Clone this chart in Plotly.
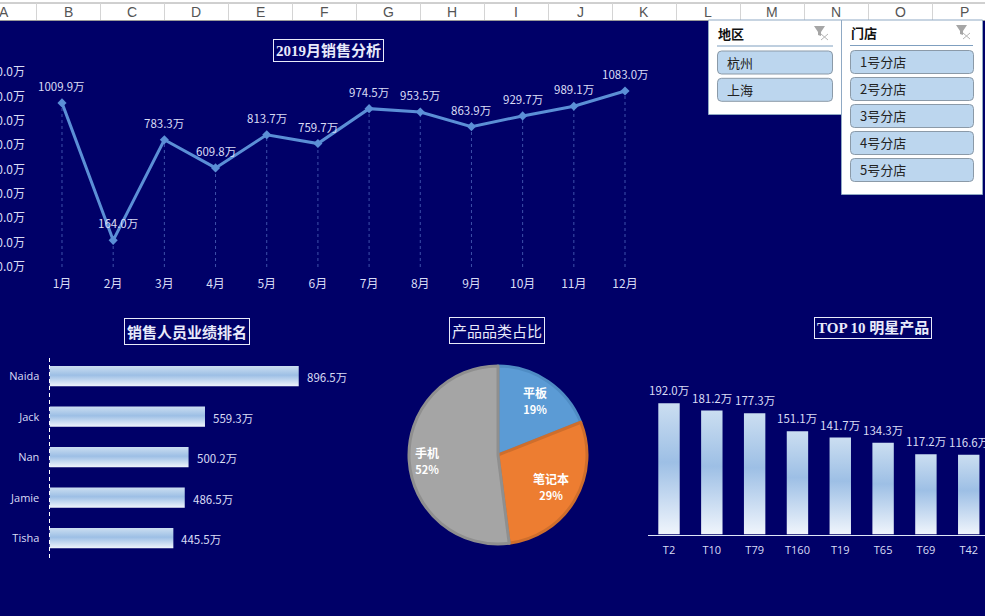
import plotly.graph_objects as go

months = ['1月', '2月', '3月', '4月', '5月', '6月', '7月', '8月', '9月', '10月', '11月', '12月']
month_sales = [1009.9, 164.0, 783.3, 609.8, 813.7, 759.7, 974.5, 953.5, 863.9, 929.7, 989.1, 1083.0]

people = ['Naida', 'Jack', 'Nan', 'Jamie', 'Tisha']
people_sales = [896.5, 559.3, 500.2, 486.5, 445.5]

pie_labels = ['平板', '笔记本', '手机']
pie_values = [19, 29, 52]
pie_colors = ['#5b9bd5', '#ed7d31', '#a5a5a5']
pie_edges = ['#4f8cc4', '#cf6e2c', '#8f8f8f']

products = ['T2', 'T10', 'T79', 'T160', 'T19', 'T65', 'T69', 'T42']
product_sales = [192.0, 181.2, 177.3, 151.1, 141.7, 134.3, 117.2, 116.6]

columns = list('ABCDEFGHIJKLMNOP')
regions = ['杭州', '上海']
stores = ['1号分店', '2号分店', '3号分店', '4号分店', '5号分店']

W, H = 985, 616
NAVY = '#000068'
TEXT = '#d9dcf5'
CJK = 'Noto Sans CJK SC'
VALUE_SIZE = 11.5


# pixel helpers, the picture is laid out in screen pixels
def px(x):
    return x / W


def py(y):
    return 1 - y / H


def wan(v):
    return f'{v:.1f}万'


def rect(x0, y0, x1, y1, fill, line=None, width=1):
    return dict(type='rect', xref='paper', yref='paper', x0=px(x0), x1=px(x1), y0=py(y0), y1=py(y1),
                fillcolor=fill, line=dict(color=line or fill, width=width if line else 0))


def hline(x0, x1, y, color, width=1):
    return dict(type='line', xref='paper', yref='paper', x0=px(x0), x1=px(x1), y0=py(y), y1=py(y),
                line=dict(color=color, width=width))


def vline(x, y0, y1, color, width=1, dash='solid'):
    return dict(type='line', xref='paper', yref='paper', x0=px(x), x1=px(x), y0=py(y0), y1=py(y1),
                line=dict(color=color, width=width, dash=dash))


def button(x0, y0, x1, y1, r=4):
    a, b, c, d = px(x0), py(y0), px(x1), py(y1)
    rx, ry = r / W, r / H
    path = (f'M {a + rx} {b} L {c - rx} {b} Q {c} {b} {c} {b - ry} L {c} {d + ry} Q {c} {d} {c - rx} {d} '
            f'L {a + rx} {d} Q {a} {d} {a} {d + ry} L {a} {b - ry} Q {a} {b} {a + rx} {b} Z')
    return dict(type='path', xref='paper', yref='paper', path=path, fillcolor='#bcd6ee',
                line=dict(color='#8b9aa8', width=1))


def filter_icon(x, y):
    funnel = f'M {px(x)} {py(y)} L {px(x + 11)} {py(y)} L {px(x + 7)} {py(y + 6)} L {px(x + 7)} {py(y + 10)} L {px(x + 4)} {py(y + 9)} L {px(x + 4)} {py(y + 6)} Z'
    cross1 = f'M {px(x + 7)} {py(y + 8)} L {px(x + 14)} {py(y + 14)}'
    cross2 = f'M {px(x + 14)} {py(y + 8)} L {px(x + 7)} {py(y + 14)}'
    return [
        dict(type='path', xref='paper', yref='paper', path=funnel, fillcolor='#a6a6a6', line=dict(width=0)),
        dict(type='path', xref='paper', yref='paper', path=cross1, line=dict(color='#b5b5b5', width=1)),
        dict(type='path', xref='paper', yref='paper', path=cross2, line=dict(color='#b5b5b5', width=1)),
    ]


def label(x, y, text, size=12, color=TEXT, anchor='center', family=CJK, weight=None, **kw):
    return dict(xref='paper', yref='paper', x=px(x), y=py(y), text=text, showarrow=False,
                xanchor=anchor, yanchor='middle',
                font=dict(size=size, color=color, family=family, weight=weight), **kw)


def title_box(x, y, text, weight=700, family=CJK, size=15):
    return label(x, y, text, size=size, color='#e8eafa', weight=weight, family=family,
                 bordercolor='#e8eafa', borderwidth=1, borderpad=2)


drop_x, drop_y = [], []
for m, v in zip(months, month_sales):
    drop_x += [m, m, None]
    drop_y += [0, v, None]

value_font = dict(size=VALUE_SIZE, color=TEXT, family=CJK)

fig = go.Figure()
fig.add_trace(go.Scatter(x=drop_x, y=drop_y, mode='lines', xaxis='x', yaxis='y',
                         line=dict(color='#3d50aa', width=1, dash='3px,3px')))
fig.add_trace(go.Scatter(x=months, y=month_sales, mode='lines+markers', xaxis='x', yaxis='y',
                         line=dict(color='#5b8fd6', width=3),
                         marker=dict(symbol='diamond', size=7, color='#5b8fd6')))
fig.add_trace(go.Bar(x=people_sales, y=people, orientation='h', xaxis='x2', yaxis='y2',
                     marker=dict(color='#9ebfe4', line=dict(width=0))))
fig.add_trace(go.Pie(labels=pie_labels, values=pie_values, sort=False, direction='clockwise', rotation=0,
                     textinfo='none', domain=dict(x=[px(409), px(587)], y=[py(544), py(366)]),
                     marker=dict(colors=pie_colors, line=dict(color=pie_edges, width=3))))
fig.add_trace(go.Bar(x=products, y=product_sales, xaxis='x3', yaxis='y3',
                     marker=dict(color='#9ebfe4', line=dict(width=0))))

# header strip and slicers
shapes = [rect(0, 0, W, 20, '#ffffff'), hline(0, W, 3, '#a0a0a0'), hline(0, W, 20.5, '#9a9a9a')]
annotations = []
for i, c in enumerate(columns):
    shapes.append(vline(36.5 + 64 * i, 3, 20, '#d4d4d4'))
    annotations.append(label(4 + 64 * i, 12, c, size=14, color='#555555', family='Liberation Sans'))

shapes.append(rect(708.5, 20, 841.5, 114.5, '#ffffff', '#8fa9c4'))
shapes.append(hline(717, 833, 46, '#7f9fbf'))
shapes += filter_icon(814, 26)
annotations.append(label(715.5, 33.5, '地区', size=13, color='#111111', anchor='left', weight=700))
for i, r in enumerate(regions):
    top = 51 + 27.3 * i
    shapes.append(button(717.5, top, 832.5, top + 23))
    annotations.append(label(725, top + 11, r, size=13, color='#222222', anchor='left'))

shapes.append(rect(841.5, 20, 982.5, 194.5, '#ffffff', '#8fa9c4'))
shapes.append(hline(850, 973, 45.5, '#7f9fbf'))
shapes += filter_icon(956, 25)
annotations.append(label(848.5, 32.5, '门店', size=13, color='#111111', anchor='left', weight=700))
for i, s in enumerate(stores):
    top = 50.5 + 27 * i
    shapes.append(button(850.5, top, 973.5, top + 23))
    annotations.append(label(858, top + 11, s, size=13, color='#222222', anchor='left'))

# dashed axis of the ranking chart, on top of the bars
shapes.append(vline(49.5, 358, 559, '#ffffff', dash='4px,3px'))

annotations += [
    title_box(328, 50.5, '2019月销售分析', family=f'Liberation Serif, {CJK}'),
    title_box(186.5, 331, '销售人员业绩排名'),
    title_box(497, 330, '产品品类占比', weight=400),
    title_box(873, 328, 'TOP 10 明星产品', family=f'Liberation Serif, {CJK}'),
]

for m, v in zip(months, month_sales):
    annotations.append(dict(x=m, y=v, xref='x', yref='y', text=wan(v), showarrow=False, yshift=17,
                            xshift=5 if m == '2月' else 0, font=value_font))

for name, v in zip(people, people_sales):
    annotations.append(dict(x=v, y=name, xref='x2', yref='y2', text=wan(v), showarrow=False, xanchor='left',
                            xshift=6, yshift=-1, font=value_font))

for name, v in zip(products, product_sales):
    annotations.append(dict(x=name, y=v, xref='x3', yref='y3', text=wan(v), showarrow=False, yshift=13,
                            font=value_font))

pie_text_pos = [(534.5, 400), (551, 486), (427, 460)]
for (x, y), name, v in zip(pie_text_pos, pie_labels, pie_values):
    share = round(v / sum(pie_values) * 100)
    annotations.append(label(x, y, f'{name}<br><span style="font-size:11px">{share}%</span>', size=12,
                             color='#ffffff', weight=700))

tick_font = dict(size=12, color=TEXT, family=CJK)
fig.update_layout(
    width=W, height=H, margin=dict(l=0, r=0, t=0, b=0, autoexpand=False), autosize=False,
    paper_bgcolor=NAVY, plot_bgcolor=NAVY, showlegend=False, hovermode=False,
    bargap=0.5, font=dict(family=CJK),
    shapes=shapes, annotations=annotations,
    xaxis=dict(domain=[px(36.4), px(650.6)], anchor='y', type='category', categoryarray=months,
               range=[-0.5, 11.5], showgrid=False, automargin=False, zeroline=False, showline=False,
               ticks='outside', ticklen=6, tickcolor='rgba(0,0,0,0)', tickfont=tick_font),
    yaxis=dict(domain=[py(267), py(72)], anchor='x', range=[0, 1200], dtick=150, showgrid=False, zeroline=False,
               automargin=False, showline=False, tickformat='.1f', ticksuffix='万', ticks='outside', ticklen=8,
               tickcolor='rgba(0,0,0,0)', tickfont=tick_font),
    xaxis2=dict(domain=[px(49.5), px(327.5)], anchor='y2', range=[0, 1000], visible=False, automargin=False),
    yaxis2=dict(domain=[py(558.5), py(356)], anchor='x2', autorange='reversed', showgrid=False, zeroline=False,
                automargin=False, showline=False, ticks='outside', ticklen=7, tickcolor='rgba(0,0,0,0)',
                tickfont=dict(size=11, color=TEXT, family='Open Sans')),
    xaxis3=dict(domain=[px(647.6), 1], anchor='y3', range=[-0.5, 7.38], showgrid=False, zeroline=False,
                automargin=False, showline=True, linecolor='#dfe6f7', linewidth=1, ticks='outside', ticklen=5,
                tickcolor='rgba(0,0,0,0)', tickfont=dict(size=11, color=TEXT, family='Open Sans')),
    yaxis3=dict(domain=[py(534.5), py(384)], anchor='x3', range=[0, 220], visible=False, automargin=False),
)

# plotly bars have no gradient fill, so swap it in on the drawn svg
post_script = """
document.body.style.margin = '0';
document.body.style.overflow = 'hidden';
document.body.style.background = '%s';
var gd = document.getElementById('{plot_id}');
var svg = gd.querySelector('.main-svg');
var defs = document.createElementNS('http://www.w3.org/2000/svg', 'defs');
defs.innerHTML = '<linearGradient id="barfade" x1="0" y1="0" x2="0" y2="1">' +
    '<stop offset="0" stop-color="#cbdef1"/><stop offset="0.45" stop-color="#9dbfe5"/>' +
    '<stop offset="1" stop-color="#f0f5fc"/></linearGradient>';
svg.insertBefore(defs, svg.firstChild);
gd.querySelectorAll('.barlayer .point path').forEach(function (p) {
    p.style.fill = 'url(#barfade)';
});
""" % NAVY

fig.write_html('out.html', post_script=post_script, config=dict(displayModeBar=False, staticPlot=True))
